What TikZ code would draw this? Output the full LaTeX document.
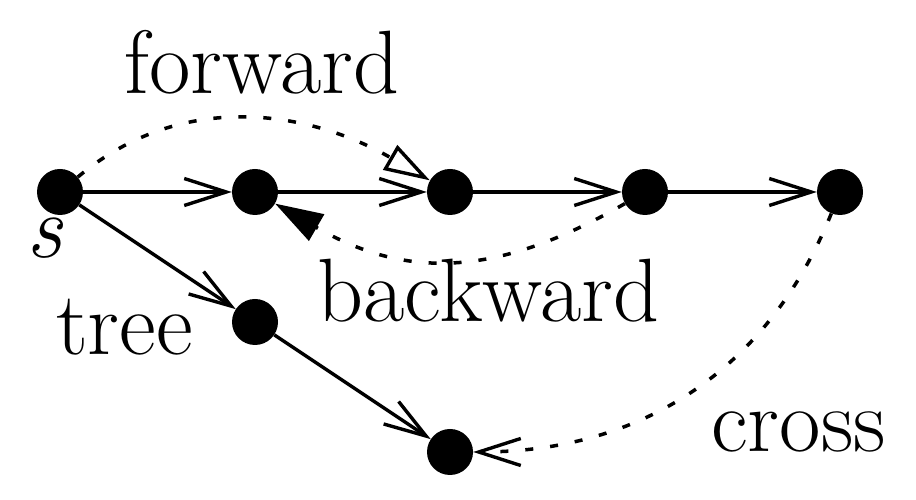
\documentclass[tikz,border=0pt]{standalone}
\usetikzlibrary{arrows.meta}
\begin{document}
\begin{tikzpicture}[x=1pt,y=1pt,
  vert/.style={circle,fill=black,inner sep=0pt,minimum size=46pt},
  lbl/.style={anchor=base,inner sep=0pt,font=\fontsize{90}{100}\selectfont},
  vtip/.style={-{Straight Barb[length=42pt,width=27pt,line width=3.4pt]}},
  edge/.style={line width=3.4pt,vtip},
  dots/.style={line width=3.5pt,dash pattern=on 8pt off 17pt}]
\useasboundingbox (0,0) rectangle (916,500);
\node[vert] (s) at (60,308) {};
\node[vert] (a) at (255,308) {};
\node[vert] (b) at (450,308) {};
\node[vert] (c) at (645,308) {};
\node[vert] (d) at (840,308) {};
\node[vert] (t) at (255,178) {};
\node[vert] (u) at (450,48) {};
\node[lbl] (ls) at (44,242) {\itshape s};
\node[lbl] (lf) at (262,406) {forward};
\node[lbl] (lt) at (124.5,145) {tree};
\node[lbl] (lb) at (488.5,178) {backward};
\node[lbl] (lc) at (798.5,48) {cross};
\draw[edge] (s) -- (a);
\draw[edge] (a) -- (b);
\draw[edge] (b) -- (c);
\draw[edge] (c) -- (d);
\draw[edge] (s) -- (t);
\draw[edge] (t) -- (u);
\draw[dots,-{Triangle[open,length=46pt,width=28pt,line width=3.4pt]}] (s) to[out=40,in=150] (b);
\draw[dots,-{Triangle[length=48pt,width=30pt]}] (c) to[out=-150,in=-30,looseness=1.1] (a);
\draw[dots,vtip] (d) to[out=-112,in=0] (u);
\end{tikzpicture}
\end{document}
